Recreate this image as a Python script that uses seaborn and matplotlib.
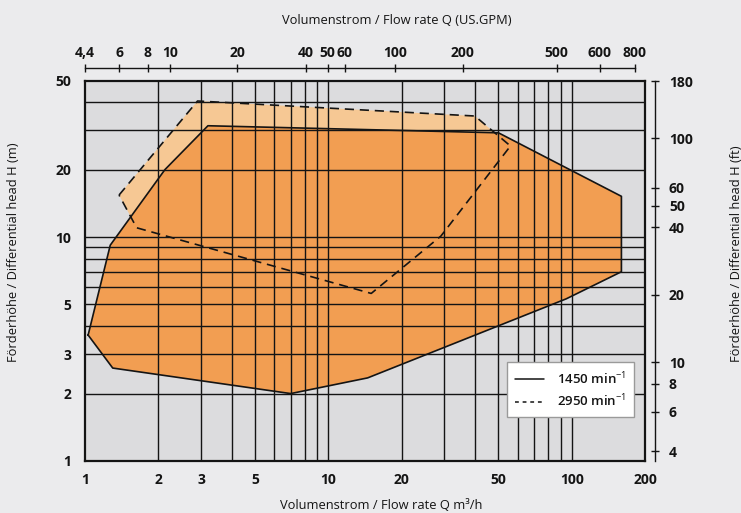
import matplotlib
matplotlib.use("Agg")
import matplotlib.pyplot as plt
import numpy as np
import pandas as pd
import seaborn as sns
from matplotlib.lines import Line2D
from matplotlib.ticker import FixedLocator, NullLocator, NullFormatter

# Operating range at 1450 rpm: flow Q (m³/h) and head H (m), polygon vertices
q_1450 = [1.03, 1.27, 2.13, 3.2, 50, 160, 160, 95, 14.5, 7.0, 1.3]
h_1450 = [3.65, 9.2, 20, 31.4, 29.2, 15.2, 7.0, 5.3, 2.35, 2.0, 2.6]

# Operating range at 2950 rpm
q_2950 = [1.38, 2.9, 40, 56, 29, 15, 1.63]
h_2950 = [15.4, 40.5, 34.7, 25.5, 10.1, 5.6, 11.0]

# Axis ticks and grid
x_tick_values = [1, 2, 3, 5, 10, 20, 50, 100, 200]
y_tick_values = [1, 2, 3, 5, 10, 20, 50]
x_grid_values = [2, 3, 4, 5, 6, 7, 8, 9, 10, 20, 30, 40, 50, 60, 70, 80, 90, 100]
y_grid_values = [2, 3, 4, 5, 6, 7, 8, 9, 10, 20, 30, 40]
ft_tick_values = [4, 6, 8, 10, 20, 40, 50, 60, 100, 180]
gpm_tick_labels = ["4,4", "6", "8", "10", "20", "40", "50", "60",
                   "100", "200", "500", "600", "800"]
gpm_tick_at_q = [1.0, 1.383, 1.809, 2.235, 4.224, 8.09, 9.93, 11.70,
                 18.77, 35.6, 86.7, 130.6, 181.8]
speed_labels = ["1450 min$^{-1}$", "2950 min$^{-1}$"]
FT_PER_M = 3.62

FIG_BG = "#ebebed"
AX_BG = "#dcdcde"
ORANGE = "#f29e52"
LIGHT_ORANGE = "#f6c894"
INK = "#141414"

sns.set_style("ticks")
plt.rcParams["font.family"] = ["Open Sans", "DejaVu Sans"]
plt.rcParams["mathtext.fontset"] = "custom"
plt.rcParams["mathtext.rm"] = "Open Sans"
plt.rcParams["mathtext.it"] = "Open Sans:italic"
plt.rcParams["mathtext.bf"] = "Open Sans:bold"
plt.rcParams["text.color"] = INK
plt.rcParams["xtick.color"] = INK
plt.rcParams["ytick.color"] = INK
plt.rcParams["xtick.labelcolor"] = INK
plt.rcParams["ytick.labelcolor"] = INK

W, H = 741, 513
fig = plt.figure(figsize=(W / 100, H / 100), dpi=100, facecolor=FIG_BG)
L, R, T, B = 85, 645, 80.5, 461
ax = fig.add_axes([L / W, 1 - B / H, (R - L) / W, (B - T) / H])
ax.set_facecolor(AX_BG)
ax.set_xscale("log")
ax.set_yscale("log")

# Filled operating areas
ax.fill(q_2950, h_2950, color=LIGHT_ORANGE, lw=0, zorder=1)
ax.fill(q_1450, h_1450, color=ORANGE, lw=0, zorder=1.5)

# Outlines
df_1450 = pd.DataFrame({"q": q_1450 + q_1450[:1], "h": h_1450 + h_1450[:1]})
df_2950 = pd.DataFrame({"q": q_2950 + q_2950[:1], "h": h_2950 + h_2950[:1]})
sns.lineplot(data=df_1450, x="q", y="h", sort=False, estimator=None,
             color=INK, lw=1.2, ax=ax, zorder=4)
sns.lineplot(data=df_2950, x="q", y="h", sort=False, estimator=None,
             color=INK, lw=1.2, linestyle=(0, (5.5, 3.5)), ax=ax, zorder=4)
ax.set(xlabel="", ylabel="")

ax.set_xlim(1, 200)
ax.set_ylim(1, 50)

# Ticks and grid
ax.xaxis.set_major_locator(FixedLocator(x_tick_values))
ax.xaxis.set_major_formatter(plt.FixedFormatter([str(v) for v in x_tick_values]))
ax.yaxis.set_major_locator(FixedLocator(y_tick_values))
ax.yaxis.set_major_formatter(plt.FixedFormatter([str(v) for v in y_tick_values]))
ax.xaxis.set_minor_locator(FixedLocator(x_grid_values))
ax.yaxis.set_minor_locator(FixedLocator(y_grid_values))
ax.xaxis.set_minor_formatter(NullFormatter())
ax.yaxis.set_minor_formatter(NullFormatter())
ax.xaxis.remove_overlapping_locs = False
ax.yaxis.remove_overlapping_locs = False
ax.tick_params(which="both", length=0)
ax.tick_params(axis="x", which="major", pad=9, labelsize=10)
ax.tick_params(axis="y", which="major", pad=10, labelsize=10)
for lab in ax.get_xticklabels() + ax.get_yticklabels():
    lab.set_fontweight("bold")
ax.grid(False, which="major")
ax.grid(True, which="minor", color=INK, lw=1.0)
ax.set_axisbelow(False)
for sp in ax.spines.values():
    sp.set_visible(True)
    sp.set_color(INK)
    sp.set_linewidth(1.6)
    sp.set_zorder(5)

# Secondary scale: head in feet
ft_ax = ax.secondary_yaxis(1 + 10 / (R - L),
                           functions=(lambda m: m * FT_PER_M, lambda f: f / FT_PER_M))
ft_ax.yaxis.set_major_locator(FixedLocator(ft_tick_values))
ft_ax.yaxis.set_major_formatter(plt.FixedFormatter([str(v) for v in ft_tick_values]))
ft_ax.yaxis.set_minor_locator(NullLocator())
ft_ax.tick_params(axis="y", direction="inout", length=6, width=1.0, pad=7,
                  labelsize=10, color=INK)
for lab in ft_ax.get_yticklabels():
    lab.set_fontweight("bold")
ft_ax.spines["right"].set_bounds(FT_PER_M, 180)
ft_ax.spines["right"].set_linewidth(1.0)
ft_ax.spines["right"].set_color(INK)

# Secondary scale: flow in US GPM
gpm_ax = ax.secondary_xaxis(1 + 12.2 / (B - T))
gpm_ax.xaxis.set_major_locator(FixedLocator(gpm_tick_at_q))
gpm_ax.xaxis.set_major_formatter(plt.FixedFormatter(gpm_tick_labels))
gpm_ax.xaxis.set_minor_locator(NullLocator())
gpm_ax.tick_params(axis="x", direction="inout", length=6, width=1.0, pad=3,
                   labelsize=10, color=INK)
for lab in gpm_ax.get_xticklabels():
    lab.set_fontweight("bold")
gpm_ax.spines["top"].set_bounds(gpm_tick_at_q[0], gpm_tick_at_q[-1])
gpm_ax.spines["top"].set_linewidth(1.0)
gpm_ax.spines["top"].set_color(INK)

# Axis titles
fig.text(396.7 / W, 1 - 21 / H, "Volumenstrom / Flow rate Q (US.GPM)",
         ha="center", va="center", fontsize=9.3)
fig.text(381 / W, 1 - 499 / H, "Volumenstrom / Flow rate Q m³/h",
         ha="center", va="top", fontsize=9.3)
fig.text(13.3 / W, 1 - 251.7 / H, "Förderhöhe / Differential head H (m)",
         ha="center", va="center", rotation=90, fontsize=9.3)
fig.text(736 / W, 1 - 254 / H, "Förderhöhe / Differential head H (ft)",
         ha="center", va="center", rotation=90, fontsize=9.3)

# Legend
handles = [Line2D([], [], color=INK, lw=1.1),
           Line2D([], [], color=INK, lw=1.1, linestyle=(0, (2.5, 2.5)))]
leg = ax.legend(handles, speed_labels, loc="upper left",
                bbox_to_anchor=((506.7 - L) / (R - L), (B - 362.3) / (B - T)),
                borderaxespad=0, frameon=True, fancybox=False, framealpha=1,
                facecolor="white", edgecolor="#9a9a9a", fontsize=9.5,
                handlelength=2.2, handletextpad=1.0, labelspacing=0.45,
                borderpad=0.6)
leg.get_frame().set_linewidth(1.0)
leg.set_zorder(6)
for txt in leg.get_texts():
    txt.set_fontweight("semibold")

fig.savefig("out.png", dpi=100, facecolor=FIG_BG)
